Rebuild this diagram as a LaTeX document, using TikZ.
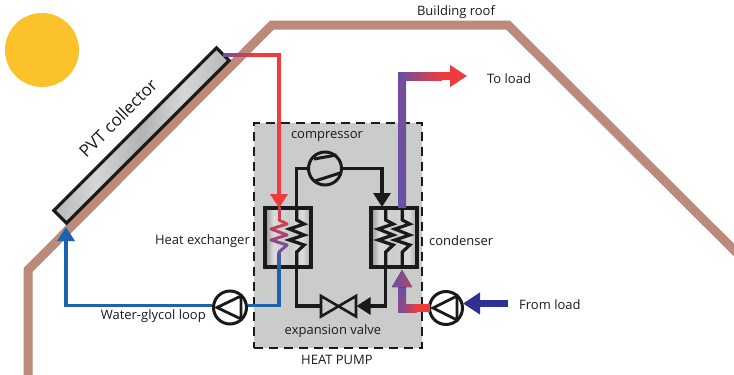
\documentclass[tikz,border=0pt]{standalone}
\usepackage{fontspec}
\setmainfont{Open Sans}
\usetikzlibrary{arrows.meta,calc}
\definecolor{roofc}{HTML}{BC8A7A}
\definecolor{sunc}{HTML}{FBC22B}
\definecolor{hpc}{HTML}{CACCCB}
\definecolor{pipered}{HTML}{EF3B3B}
\definecolor{pipepur}{HTML}{6750A4}
\definecolor{pipeblue}{HTML}{1B63AF}
\definecolor{loadblue}{HTML}{2E3192}
\definecolor{inkc}{HTML}{1A1A1A}
\pgfdeclarehorizontalshading{panelbands}{100bp}{
 color(0bp)=(white!72!black);color(25bp)=(white!72!black);color(37bp)=(white!84!black);
 color(50bp)=(white!70!black);color(62bp)=(white!84!black);color(75bp)=(white!72!black);color(100bp)=(white!72!black)}
\pgfdeclarehorizontalshading{hxbands}{100bp}{
 color(0bp)=(white!58!black);color(25bp)=(white!58!black);color(34bp)=(white!86!black);
 color(50bp)=(white!80!black);color(66bp)=(white!86!black);color(75bp)=(white!66!black);color(100bp)=(white!66!black)}
\tikzset{
 lbl/.style={font=\fontsize{13}{15}\selectfont,text=inkc,inner sep=0pt},
 loopline/.style={line width=3.2pt,draw=inkc,line join=miter},
 exch/.style={draw=inkc,line width=3.4pt,shading=hxbands,minimum width=46pt,minimum height=59pt,inner sep=0pt},
 round device/.style={circle,draw=inkc,line width=3pt,minimum size=33pt,inner sep=0pt},
 blackhead/.style={-{Triangle[width=17pt,length=14pt]}},
 thinhead/.style={-{Triangle[width=17pt,length=14pt]}},
 widehead/.style={-{Triangle[width=21pt,length=17pt]}},
}
\newcommand{\coilpath}[1]{(#1,207) -- (#1,220) -- ($(#1,224)+(7.5,0)$) -- ($(#1,229)+(-7.5,0)$) -- ($(#1,235)+(7.5,0)$) -- ($(#1,240)+(-7.5,0)$) -- ($(#1,245)+(7.5,0)$) -- (#1,252) -- (#1,268)}
\begin{document}
\begin{tikzpicture}[x=1pt,y=-1pt]
\useasboundingbox (0,0) rectangle (734,375);
% sun and roof
\fill[sunc] (42,50) circle[radius=37];
\draw[roofc,line width=9pt,line join=miter] (28,380) -- (28,270) -- (272,25) -- (508,25) -- (740,256);
% heat pump housing
\node[draw=inkc,fill=hpc,line width=2.2pt,dash pattern=on 9pt off 6pt,minimum width=168pt,minimum height=225pt,inner sep=0pt] (hp) at (338,235.5) {};
% collector
\node[draw=inkc,line width=3.2pt,shading=panelbands,rotate=45,minimum width=230pt,minimum height=18pt,inner sep=0pt] (pvt) at (141.5,135.5) {};
% exchangers
\node[exch] (hx) at (288,237.5) {};
\node[exch] (cd) at (394,237.5) {};
% devices
\node[round device] (comp) at (325,168.5) {};
\node[round device] (pumpa) at (230,307.5) {};
\node[round device] (pumpb) at (446,308) {};
% symbols in devices
\draw[inkc,line width=3pt] (314,159) -- (336.5,155);
\draw[inkc,line width=3pt] (315,181) -- (340,173);
\draw[inkc,line width=2.8pt,line join=miter] (217,307.5) -- (241,296) -- (241,319) -- cycle;
\draw[inkc,line width=2.8pt,line join=miter] (433,308) -- (457,296) -- (457,320) -- cycle;
% refrigerant loop
\coordinate (hxb) at (296.7,268);
\coordinate (hxt) at (296.7,207);
\coordinate (cdb) at (385.7,268);
\coordinate (cdt) at (382,207);
\node[minimum size=0pt,inner sep=0pt] (valve) at (338.5,306) {};
\draw[fill=hpc,draw=inkc,line width=2.6pt,line join=miter] (321,296) -- (356,316.5) -- (356,296) -- (321,316.5) -- cycle;
\draw[loopline] (hxt) -- (comp.west -| hxt) -- (comp.west);
\draw[loopline,blackhead] (comp.east) -- (comp.east -| cdt) -- (cdt);
\draw[loopline] (hxb) -- (hxb |- valve) -- (321,306);
\draw[loopline,blackhead] (cdb) -- (cdb |- valve) -- (356.5,306);
% black coils
\draw[loopline] \coilpath{296.7};
\draw[loopline] \coilpath{385.7};
\draw[loopline] \coilpath{402.3};
% glycol loop: red side
\shade[left color=pipepur,right color=pipered] (223,53.3) rectangle (253,56.7);
\coordinate (redstart) at (253,55);
\coordinate (redcorner) at (279,55);
\coordinate (redtip) at (279,208);
\draw[pipered,line width=3.4pt,thinhead] (redstart) -- (redcorner) -- (redtip);
% glycol coil, fading from red to purple
\draw[pipered!75!pipepur,line width=3pt] (279,207) -- (279,220);
\draw[pipered!80!pipepur,line width=3pt,line cap=round] (279,220) -- (287,224);
\draw[pipered!68!pipepur,line width=3pt,line cap=round] (287,224) -- (271,229);
\draw[pipered!56!pipepur,line width=3pt,line cap=round] (271,229) -- (287,235);
\draw[pipered!44!pipepur,line width=3pt,line cap=round] (287,235) -- (271,240);
\draw[pipered!28!pipepur,line width=3pt,line cap=round] (271,240) -- (287,245);
\draw[pipered!10!pipepur,line width=3pt,line cap=round] (287,245) -- (279,252);
\shade[top color=pipepur,bottom color=pipeblue] (277.4,252) rectangle (280.6,268);
% glycol loop: blue side
\coordinate (bluestart) at (279,268);
\coordinate (bluetip) at (66,227);
\draw[pipeblue,line width=3.4pt] (bluestart) -- (279,305.5) -- (pumpa.east |- 0,305.5);
\draw[pipeblue,line width=3.4pt,thinhead] (pumpa.west |- 0,305.5) -- (66,305.5) -- (bluetip);
% load side
\coordinate (outbot) at (402,207);
\shade[top color=pipepur!90!pipered,bottom color=pipepur] (398,76) rectangle (406,207);
\shade[left color=pipepur,right color=pipered] (398,72) rectangle (442,80);
\coordinate (outmid) at (442,76);
\coordinate (outtip) at (467,76);
\draw[pipered,line width=7.6pt,widehead] (outmid) -- (outtip);
\fill[pipered] (416,304) rectangle (430,312);
\shade[left color=pipepur,right color=pipered] (398,304) rectangle (417,312);
\shade[top color=pipepur,bottom color=pipepur!70!pipered] (398,286) rectangle (406,308);
\coordinate (intip) at (402,270);
\fill[left color=pipepur,right color=pipepur!45!pipered] (402,270) -- (412,287) -- (392,287) -- cycle;
\coordinate (loadstart) at (508,303.5);
\draw[loadblue,line width=7.6pt,widehead] (loadstart) -- (463,303.5);
% labels
\node[lbl] (t1) at (456,12) {Building roof};
\node[lbl,anchor=west] (t2) at (487,79) {To load};
\node[lbl,rotate=45,font=\fontsize{17}{19}\selectfont] (t3) at (118,118) {PVT collector};
\node[lbl] (t4) at (327,136.5) {compressor};
\node[lbl,anchor=east] (t5) at (250,241) {Heat exchanger};
\node[lbl,anchor=west] (t6) at (429,241) {condenser};
\node[lbl,anchor=east] (t7) at (206,316) {Water-glycol loop};
\node[lbl,anchor=west] (t8) at (519,304.5) {From load};
\node[lbl] (t9) at (333,331) {expansion valve};
\node[lbl] (t10) at (337,360) {HEAT PUMP};
\end{tikzpicture}
\end{document}
